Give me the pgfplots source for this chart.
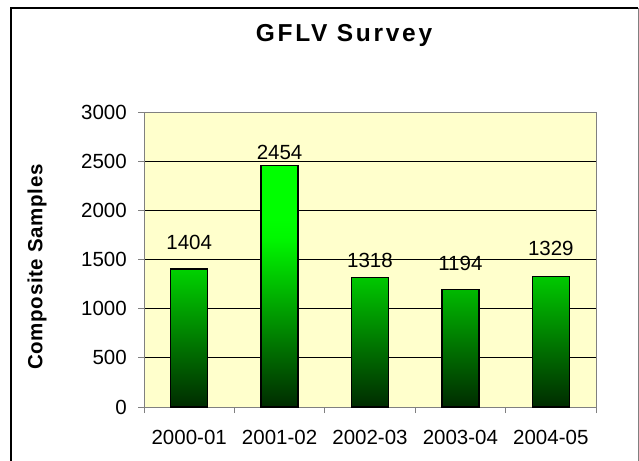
\documentclass[border=0pt]{standalone}
\usepackage{pgfplots}
\pgfplotsset{compat=1.18}
\usepackage{fontspec}
\setmainfont{Liberation Sans}
\definecolor{plotbg}{RGB}{255,255,204}
\definecolor{axgray}{RGB}{128,128,128}
\pgfdeclareverticalshading{barshade}{100bp}{%
  rgb(0bp)=(0,0.17,0); rgb(25bp)=(0,0.17,0); rgb(37.5bp)=(0,0.45,0);
  rgb(50bp)=(0,0.74,0); rgb(60bp)=(0,0.97,0); rgb(64bp)=(0,1,0);
  rgb(75bp)=(0,1,0); rgb(100bp)=(0,1,0)}
\newcommand{\tickfont}{\fontsize{20.5}{24}\selectfont}
\begin{document}
\begin{tikzpicture}[x=1pt,y=1pt]
\useasboundingbox (0,0) rectangle (639,-460);
\draw[black, line width=1.5pt] (11,-461) -- (11,-8) -- (638,-8);
\draw[axgray, line width=1pt] (638,-8) -- (638,-461);
\node[anchor=base, inner sep=0pt, font=\fontsize{24.5}{29}\selectfont\bfseries\addfontfeatures{LetterSpace=11}] at (344,-41.7) {GFLV Survey};
\begin{axis}[
  at={(144pt,-407pt)}, anchor=south west,
  scale only axis, width=452pt, height=295pt,
  xmin=-0.5, xmax=4.5, ymin=0, ymax=3000,
  xtick={0,...,4},
  xticklabels={2000-01,2001-02,2002-03,2003-04,2004-05},
  minor xtick={-0.5,0.5,...,4.5},
  ytick={0,500,...,3000},
  tick pos=left,
  tick align=outside,
  major tick length=6pt, minor tick length=6pt,
  every tick/.style={axgray, line width=1pt},
  major x tick style={draw=none},
  ymajorgrids,
  grid style={black, line width=0.8pt},
  axis line style={axgray, line width=1pt},
  axis background/.style={fill=plotbg},
  /pgf/number format/assume math mode=true,
  /pgf/number format/1000 sep={},
  ticklabel style={font=\tickfont},
  yticklabel style={anchor=east, inner sep=0pt, xshift=-11pt},
  xticklabel style={anchor=north, inner sep=0pt, yshift=-17pt},
  ylabel={Composite Samples},
  every axis y label/.style={at={(axis description cs:-0.2367,0.4746)}, rotate=90, anchor=center,
     font=\fontsize{20.5}{24}\selectfont\bfseries\addfontfeatures{LetterSpace=3}},
  clip=false,
]
\addplot[ybar, bar width=37pt, draw=black, line width=1.5pt, shading=barshade]
  coordinates {(0,1404) (1,2454) (2,1318) (3,1194) (4,1329)};
\node[anchor=base, inner sep=0pt, font=\tickfont] at (axis cs:0,1597) {1404};
\node[anchor=base, inner sep=0pt, font=\tickfont] at (axis cs:1,2512) {2454};
\node[anchor=base, inner sep=0pt, font=\tickfont] at (axis cs:2,1414) {1318};
\node[anchor=base, inner sep=0pt, font=\tickfont] at (axis cs:3,1393) {1194};
\node[anchor=base, inner sep=0pt, font=\tickfont] at (axis cs:4,1536) {1329};
\end{axis}
\end{tikzpicture}
\end{document}
